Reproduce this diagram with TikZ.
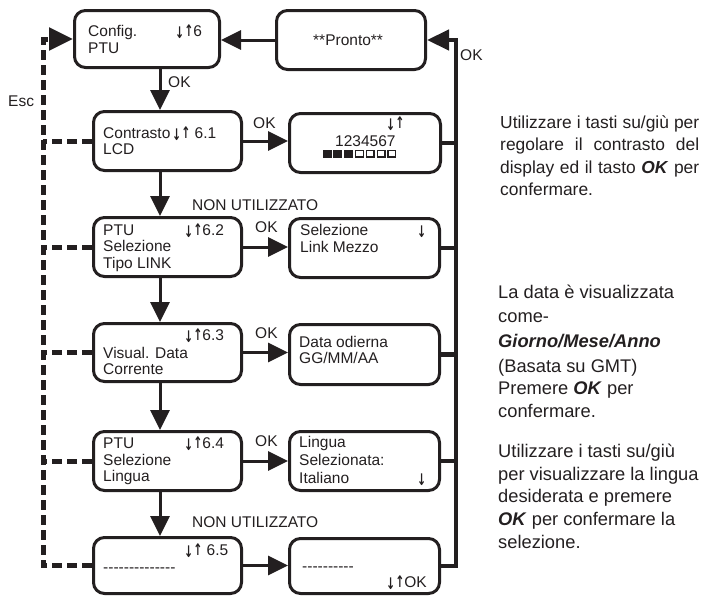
\documentclass[tikz,border=0pt]{standalone}
\usepackage{fontspec}
\setmainfont{Liberation Sans}
\newfontfamily\arrowfont{DejaVu Sans}
\usetikzlibrary{arrows.meta}
\definecolor{ink}{HTML}{231F20}
% up/down key pair as shown on the display
\newcommand{\keyfont}{\arrowfont\bfseries\fontsize{16pt}{16pt}\selectfont}
\newcommand{\dn}{\scalebox{0.68}[1]{\keyfont\raisebox{-2.5pt}{↓}}}
\newcommand{\up}{\scalebox{0.68}[1]{\keyfont ↑}}
\newcommand{\ud}{\dn\up}
\newcommand{\bi}[1]{\textbf{\textit{#1}}}
\begin{document}
\begin{tikzpicture}[x=1pt,y=-1pt,
  screen/.style={draw=ink, line width=3pt, rounded corners=11pt, inner sep=0pt},
  flow/.style={draw=ink, line width=3pt, -{Triangle[length=20pt,width=19pt]}},
  bus/.style={draw=ink, line width=4.5pt},
  esc/.style={draw=ink, line width=5pt, dash pattern=on 10pt off 5pt},
  lbl/.style={anchor=base west, inner sep=0pt, text=ink, font=\fontsize{15.5pt}{18pt}\selectfont},
  note/.style={anchor=base west, inner sep=0pt, text=ink, font=\fontsize{18.3pt}{22pt}\selectfont},
  notej/.style={anchor=base west, inner sep=0pt, text=ink, font=\fontsize{17.4pt}{22pt}\selectfont},
  cell/.style={draw=ink, line width=1.4pt}]
\useasboundingbox (0,0) rectangle (708,597);

% guide coordinates
\coordinate (vx) at (160,0);
\coordinate (escx) at (43,0);
\coordinate (bustop) at (456,40);

% screens, left column
\node[screen, minimum width=145pt, minimum height=57pt] (box1) at (147,39) {};
\node[screen, minimum width=148pt, minimum height=59pt] (box2) at (167.5,141) {};
\node[screen, minimum width=148pt, minimum height=59pt] (box3) at (167.5,247) {};
\node[screen, minimum width=148pt, minimum height=58pt] (box4) at (167.5,352.5) {};
\node[screen, minimum width=148pt, minimum height=59pt] (box5) at (167.5,461) {};
\node[screen, minimum width=148pt, minimum height=56pt] (box6) at (167.5,565.5) {};
% screens, right column
\node[screen, minimum width=149pt, minimum height=59pt] (pronto) at (351,40) {};
\node[screen, minimum width=151pt, minimum height=59pt] (disp) at (365,143) {};
\node[screen, minimum width=150pt, minimum height=59pt] (mezzo) at (364.5,248) {};
\node[screen, minimum width=150pt, minimum height=60pt] (data) at (364.5,354.5) {};
\node[screen, minimum width=150pt, minimum height=59pt] (lingua) at (364.5,461) {};
\node[screen, minimum width=150pt, minimum height=55pt] (last) at (364.5,566) {};

% screen texts
\node[lbl] (t1a) at (88,36) {Config.};
\node[lbl] (t1b) at (88,53) {PTU};
\node[lbl] (t1c) at (175,36) {\ud6};
\node[lbl] (tpr) at (313,45) {**Pronto**};

\node[lbl] (t2a) at (103,138) {Contrasto};
\node[lbl] (t2b) at (172,138) {\ud\ 6.1};
\node[lbl] (t2c) at (103,154) {LCD};
\node[lbl] (td1) at (386,128) {\ud};
\node[lbl] (td2) at (335,146) {1234567};
\foreach \i in {0,...,6}{
  \pgfmathsetmacro{\xx}{322.5+\i*10.8}
  \ifnum\i<3
    \fill[ink] (\xx,150) rectangle ++(9,7.5);
  \else
    \draw[cell] (\xx+0.7,150.7) rectangle ++(7.6,6.1);
  \fi
}

\node[lbl] (t3a) at (103,235) {PTU};
\node[lbl] (t3b) at (103,251) {Selezione};
\node[lbl] (t3c) at (103,268) {Tipo LINK};
\node[lbl] (t3d) at (184,235) {\ud6.2};
\node[lbl] (tm1) at (300,235) {Selezione};
\node[lbl] (tm2) at (300,252) {Link Mezzo};
\node[lbl] (tm3) at (417,235) {\dn};

\node[lbl] (t4a) at (184,340) {\ud6.3};
\node[lbl] (t4b) at (103,358) {Visual. Data};
\node[lbl] (t4c) at (103,374) {Corrente};
\node[lbl] (tda) at (299,347) {Data odierna};
\node[lbl] (tdb) at (299,363) {GG/MM/AA};

\node[lbl] (t5a) at (103,448) {PTU};
\node[lbl] (t5b) at (103,465) {Selezione};
\node[lbl] (t5c) at (103,481) {Lingua};
\node[lbl] (t5d) at (184,448) {\ud6.4};
\node[lbl] (tla) at (299,447) {Lingua};
\node[lbl] (tlb) at (299,465) {Selezionata:};
\node[lbl] (tlc) at (299,483) {Italiano};
\node[lbl] (tld) at (417,483) {\dn};

\node[lbl] (t6a) at (184,555) {\ud\ 6.5};
\node[lbl] (t6b) at (103,572) {-{}-{}-{}-{}-{}-{}-{}-{}-{}-{}-{}-{}-{}-};
\node[lbl] (tza) at (302,571) {-{}-{}-{}-{}-{}-{}-{}-{}-{}-};
\node[lbl] (tzb) at (386,587) {\ud OK};

% connector labels
\node[lbl] (okd) at (168,87) {OK};
\node[lbl] (esc) at (8,106) {Esc};
\node[lbl] (okb) at (460,60) {OK};
\node[lbl] (ok2) at (253,128) {OK};
\node[lbl] (ok3) at (255,232) {OK};
\node[lbl] (ok4) at (255,338) {OK};
\node[lbl] (ok5) at (255,446) {OK};
\node[lbl] (nu1) at (192,210) {NON UTILIZZATO};
\node[lbl] (nu2) at (192,527) {NON UTILIZZATO};

% main flow
\draw[flow] (pronto.west) -- (box1.east |- pronto.west);
\draw[flow] (box1.south -| vx) -- (box2.north -| vx);
\draw[flow] (box2.south -| vx) -- (box3.north -| vx);
\draw[flow] (box3.south -| vx) -- (box4.north -| vx);
\draw[flow] (box4.south -| vx) -- (box5.north -| vx);
\draw[flow] (box5.south -| vx) -- (box6.north -| vx);
\draw[flow] (box2.east) -- (box2.east -| disp.west);
\draw[flow] (box3.east) -- (box3.east -| mezzo.west);
\draw[flow] (box4.east) -- (box4.east -| data.west);
\draw[flow] (box5.east) -- (box5.east -| lingua.west);
\draw[flow] (box6.east) -- (box6.east -| last.west);

% OK return bus
\draw[bus, -{Triangle[length=22pt,width=20pt]}] (last.east) -| (bustop) -- (pronto.east);
\draw[bus] (disp.east) -- (disp.east -| bustop);
\draw[bus] (mezzo.east) -- (mezzo.east -| bustop);
\draw[bus] (data.east) -- (data.east -| bustop);
\draw[bus] (lingua.east) -- (lingua.east -| bustop);

% Esc return line
\draw[esc, -{Triangle[length=24pt,width=22pt]}] (box6.west) -| (escx |- box1.west) -- (box1.west);
\draw[esc] (box2.west) -- (box2.west -| escx);
\draw[esc] (box3.west) -- (box3.west -| escx);
\draw[esc] (box4.west) -- (box4.west -| escx);
\draw[esc] (box5.west) -- (box5.west -| escx);

% side notes
\node[notej] (n1a) at (500,128) {\makebox[199pt][s]{Utilizzare i tasti su/giù per}};
\node[notej] (n1b) at (500,150.5) {\makebox[199pt][s]{regolare il contrasto del}};
\node[notej] (n1c) at (500,173) {\makebox[199pt][s]{display ed il tasto \bi{OK} per}};
\node[notej] (n1d) at (500,195.5) {confermare.};

\node[note] (n2a) at (498,298) {La data è visualizzata};
\node[note] (n2b) at (498,322) {come-};
\node[note] (n2c) at (498,347) {\bi{Giorno/Mese/Anno}};
\node[note] (n2d) at (498,372) {(Basata su GMT)};
\node[note] (n2e) at (498,394) {Premere \bi{OK} per};
\node[note] (n2f) at (498,417) {confermare.};

\node[note] (n3a) at (498,457) {Utilizzare i tasti su/giù};
\node[note] (n3b) at (498,480) {per visualizzare la lingua};
\node[note] (n3c) at (498,502) {desiderata e premere};
\node[note] (n3d) at (498,525) {\bi{OK} per confermare la};
\node[note] (n3e) at (498,548) {selezione.};
\end{tikzpicture}
\end{document}
